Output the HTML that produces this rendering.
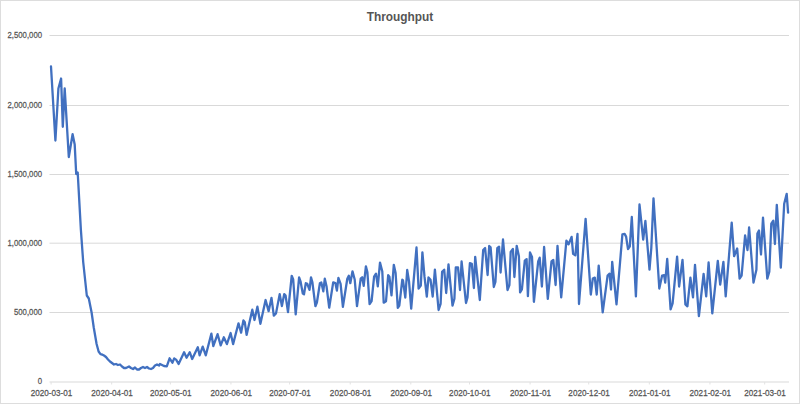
<!DOCTYPE html>
<html><head><meta charset="utf-8"><style>
html,body{margin:0;padding:0;background:#fff;}
body{width:800px;height:404px;overflow:hidden;}
svg{display:block;}
.yl{font-family:"Liberation Sans",sans-serif;font-size:9.75px;fill:#555555;stroke:#555555;stroke-width:0.25px;}
.xl{font-family:"Liberation Sans",sans-serif;font-size:9.5px;fill:#555555;stroke:#555555;stroke-width:0.25px;}
.tt{font-family:"Liberation Sans",sans-serif;font-size:12px;font-weight:bold;fill:#555555;}
</style></head><body>
<svg width="800" height="404" viewBox="0 0 800 404">
<rect x="0.5" y="0.5" width="799" height="403" fill="#fff" stroke="#DDDDDD" stroke-width="1"/>
<text x="400" y="21.2" text-anchor="middle" class="tt" textLength="66.5" lengthAdjust="spacingAndGlyphs">Throughput</text>
<line x1="49.5" y1="312.50" x2="789" y2="312.50" stroke="#D9D9D9" stroke-width="1"/>
<line x1="49.5" y1="243.20" x2="789" y2="243.20" stroke="#D9D9D9" stroke-width="1"/>
<line x1="49.5" y1="174.50" x2="789" y2="174.50" stroke="#D9D9D9" stroke-width="1"/>
<line x1="49.5" y1="105.50" x2="789" y2="105.50" stroke="#D9D9D9" stroke-width="1"/>
<line x1="49.5" y1="35.50" x2="789" y2="35.50" stroke="#D9D9D9" stroke-width="1"/>

<line x1="49.5" y1="382" x2="789" y2="382" stroke="#D9D9D9" stroke-width="1.2"/>
<text transform="translate(42.0,384.40) scale(0.795,1)" text-anchor="end" class="yl">0</text>
<text transform="translate(42.0,314.90) scale(0.795,1)" text-anchor="end" class="yl">500,000</text>
<text transform="translate(42.0,245.60) scale(0.795,1)" text-anchor="end" class="yl">1,000,000</text>
<text transform="translate(42.0,176.90) scale(0.795,1)" text-anchor="end" class="yl">1,500,000</text>
<text transform="translate(42.0,107.90) scale(0.795,1)" text-anchor="end" class="yl">2,000,000</text>
<text transform="translate(42.0,37.90) scale(0.795,1)" text-anchor="end" class="yl">2,500,000</text>

<line x1="51.10" y1="382" x2="51.10" y2="384.5" stroke="#E2E2E2" stroke-width="1"/>
<text transform="translate(51.50,395.6) scale(0.855,1)" text-anchor="middle" class="xl">2020-03-01</text>
<line x1="111.70" y1="382" x2="111.70" y2="384.5" stroke="#E2E2E2" stroke-width="1"/>
<text transform="translate(112.11,395.6) scale(0.855,1)" text-anchor="middle" class="xl">2020-04-01</text>
<line x1="170.35" y1="382" x2="170.35" y2="384.5" stroke="#E2E2E2" stroke-width="1"/>
<text transform="translate(170.75,395.6) scale(0.855,1)" text-anchor="middle" class="xl">2020-05-01</text>
<line x1="230.96" y1="382" x2="230.96" y2="384.5" stroke="#E2E2E2" stroke-width="1"/>
<text transform="translate(231.36,395.6) scale(0.855,1)" text-anchor="middle" class="xl">2020-06-01</text>
<line x1="289.61" y1="382" x2="289.61" y2="384.5" stroke="#E2E2E2" stroke-width="1"/>
<text transform="translate(290.01,395.6) scale(0.855,1)" text-anchor="middle" class="xl">2020-07-01</text>
<line x1="350.22" y1="382" x2="350.22" y2="384.5" stroke="#E2E2E2" stroke-width="1"/>
<text transform="translate(350.62,395.6) scale(0.855,1)" text-anchor="middle" class="xl">2020-08-01</text>
<line x1="410.82" y1="382" x2="410.82" y2="384.5" stroke="#E2E2E2" stroke-width="1"/>
<text transform="translate(411.22,395.6) scale(0.855,1)" text-anchor="middle" class="xl">2020-09-01</text>
<line x1="469.47" y1="382" x2="469.47" y2="384.5" stroke="#E2E2E2" stroke-width="1"/>
<text transform="translate(469.87,395.6) scale(0.855,1)" text-anchor="middle" class="xl">2020-10-01</text>
<line x1="530.08" y1="382" x2="530.08" y2="384.5" stroke="#E2E2E2" stroke-width="1"/>
<text transform="translate(530.48,395.6) scale(0.855,1)" text-anchor="middle" class="xl">2020-11-01</text>
<line x1="588.73" y1="382" x2="588.73" y2="384.5" stroke="#E2E2E2" stroke-width="1"/>
<text transform="translate(589.12,395.6) scale(0.855,1)" text-anchor="middle" class="xl">2020-12-01</text>
<line x1="649.33" y1="382" x2="649.33" y2="384.5" stroke="#E2E2E2" stroke-width="1"/>
<text transform="translate(649.73,395.6) scale(0.855,1)" text-anchor="middle" class="xl">2021-01-01</text>
<line x1="709.94" y1="382" x2="709.94" y2="384.5" stroke="#E2E2E2" stroke-width="1"/>
<text transform="translate(710.34,395.6) scale(0.855,1)" text-anchor="middle" class="xl">2021-02-01</text>
<line x1="764.68" y1="382" x2="764.68" y2="384.5" stroke="#E2E2E2" stroke-width="1"/>
<text transform="translate(765.08,395.6) scale(0.855,1)" text-anchor="middle" class="xl">2021-03-01</text>

<polyline points="51.00,66.50 55.40,140.50 58.40,88.50 61.10,78.50 62.80,126.80 64.70,88.50 68.80,157.00 72.60,134.20 74.70,144.60 76.20,174.00 77.70,172.50 80.90,230.00 83.20,262.00 86.80,295.50 88.80,298.50 91.60,312.50 93.75,327.50 96.60,344.00 98.60,351.50 100.50,354.20 102.00,354.50 104.00,355.50 106.00,357.00 108.00,359.50 110.00,361.50 112.00,363.00 114.00,364.50 116.00,364.00 118.00,365.00 120.00,364.50 122.00,366.50 124.00,368.00 126.00,368.00 128.00,367.00 129.00,366.50 131.00,368.00 133.00,369.00 135.00,367.50 137.00,369.50 139.00,369.50 141.00,368.00 143.00,367.00 145.00,368.00 147.00,367.00 149.00,368.50 151.00,369.00 153.00,368.00 155.00,365.50 157.00,364.50 159.00,365.50 160.00,364.00 162.00,365.00 164.00,366.00 166.80,366.30 169.60,358.30 172.40,362.70 174.20,358.40 176.10,359.60 178.60,364.00 184.10,352.20 186.60,357.80 189.70,352.20 192.20,359.00 197.80,347.20 199.60,355.30 202.70,346.60 205.80,355.30 211.40,333.60 213.30,346.00 217.60,334.20 220.70,345.40 223.80,337.30 226.90,344.10 230.60,333.00 233.10,344.10 238.50,323.30 241.10,332.70 243.40,320.40 244.80,322.30 246.60,334.90 252.30,309.70 254.50,320.00 257.40,306.70 260.40,323.80 265.60,300.00 268.60,311.20 271.50,297.80 273.80,315.60 276.00,313.40 279.70,294.10 281.90,306.00 284.20,294.10 285.60,295.60 288.00,312.10 291.70,275.80 293.20,279.50 295.70,314.30 299.10,277.30 300.60,281.70 302.80,293.60 304.00,294.30 305.80,283.20 307.30,283.90 309.50,289.90 311.00,277.30 312.40,282.40 315.40,306.20 316.90,302.50 319.90,283.20 321.30,282.40 323.30,291.30 324.80,278.70 326.50,286.20 329.20,307.70 333.20,282.40 335.40,283.20 336.90,290.60 338.40,278.00 340.60,283.90 342.90,306.90 347.30,278.70 348.80,275.80 350.30,283.20 352.50,271.30 354.70,279.50 357.00,306.20 360.70,278.70 362.20,277.30 363.70,285.80 365.90,266.30 367.40,272.30 369.60,304.20 371.60,301.20 374.10,276.70 376.00,273.70 377.80,286.40 380.00,262.60 382.30,271.50 383.70,302.70 386.00,301.20 388.20,275.20 389.40,276.70 391.50,295.30 393.80,264.80 395.60,273.00 397.80,307.90 399.30,305.60 402.30,279.70 403.00,280.40 405.30,297.50 407.20,270.00 409.00,281.20 411.20,308.60 416.50,247.50 418.60,288.60 420.80,285.60 422.40,252.30 424.50,276.70 426.80,296.70 428.50,277.40 430.50,279.70 432.70,296.50 434.90,269.70 438.60,310.00 440.60,303.80 442.10,271.90 444.20,269.70 446.20,293.00 448.50,264.30 452.50,305.60 454.40,298.80 455.80,267.40 458.00,267.40 460.00,290.00 461.60,261.50 466.00,303.00 467.50,297.50 469.90,263.20 471.80,263.80 473.90,288.00 475.20,256.80 479.80,300.00 483.20,250.00 485.10,248.00 487.60,275.00 489.20,246.00 490.60,247.40 493.80,287.00 495.40,282.00 497.30,248.20 499.10,246.70 500.60,272.50 503.00,239.50 507.50,290.00 509.40,285.00 510.70,251.90 512.90,248.90 514.40,277.00 516.70,245.80 518.90,256.20 520.10,292.40 521.90,289.50 524.80,260.60 526.60,259.10 527.90,296.20 530.00,252.40 532.00,256.90 533.90,301.80 538.20,261.40 539.70,257.60 541.90,286.50 544.10,247.00 547.80,298.80 551.50,261.40 553.30,259.90 555.60,285.00 557.50,245.80 561.20,297.30 566.40,240.60 568.60,244.30 571.60,236.90 573.10,253.90 575.30,255.40 577.50,233.90 579.00,304.00 585.60,218.90 590.80,294.50 592.80,278.60 594.80,277.60 596.70,294.50 598.70,265.70 602.70,312.30 607.60,275.60 609.60,273.70 611.00,289.50 612.20,261.80 616.50,304.40 622.40,234.40 624.60,233.90 626.10,236.60 628.00,249.20 629.80,246.30 631.80,217.00 635.90,296.40 639.50,204.50 643.20,239.60 645.40,221.00 649.50,269.70 651.30,248.00 653.50,198.30 659.30,288.50 662.10,275.60 664.10,275.20 665.20,282.60 667.20,258.80 670.60,309.30 672.60,303.40 677.10,256.60 679.10,286.50 682.50,259.80 685.40,304.40 687.40,306.30 690.40,277.60 693.00,297.40 695.00,264.80 698.90,316.20 703.60,274.00 706.20,296.40 708.60,262.50 712.30,313.30 717.80,260.80 720.20,284.60 723.40,261.80 725.70,296.40 731.70,222.60 734.10,256.20 737.20,248.50 739.60,278.60 741.60,275.60 745.10,235.40 747.50,250.00 749.10,227.50 753.50,282.60 756.40,269.70 757.40,233.50 759.00,230.50 761.00,254.50 763.00,217.60 767.30,278.60 769.30,271.70 771.30,223.60 773.30,220.60 774.90,244.00 776.80,204.80 780.80,267.70 784.20,203.80 786.70,193.90 788.10,212.70" fill="none" stroke="#4170C0" stroke-width="2.3" stroke-linejoin="round" stroke-linecap="round"/>
</svg>
</body></html>
